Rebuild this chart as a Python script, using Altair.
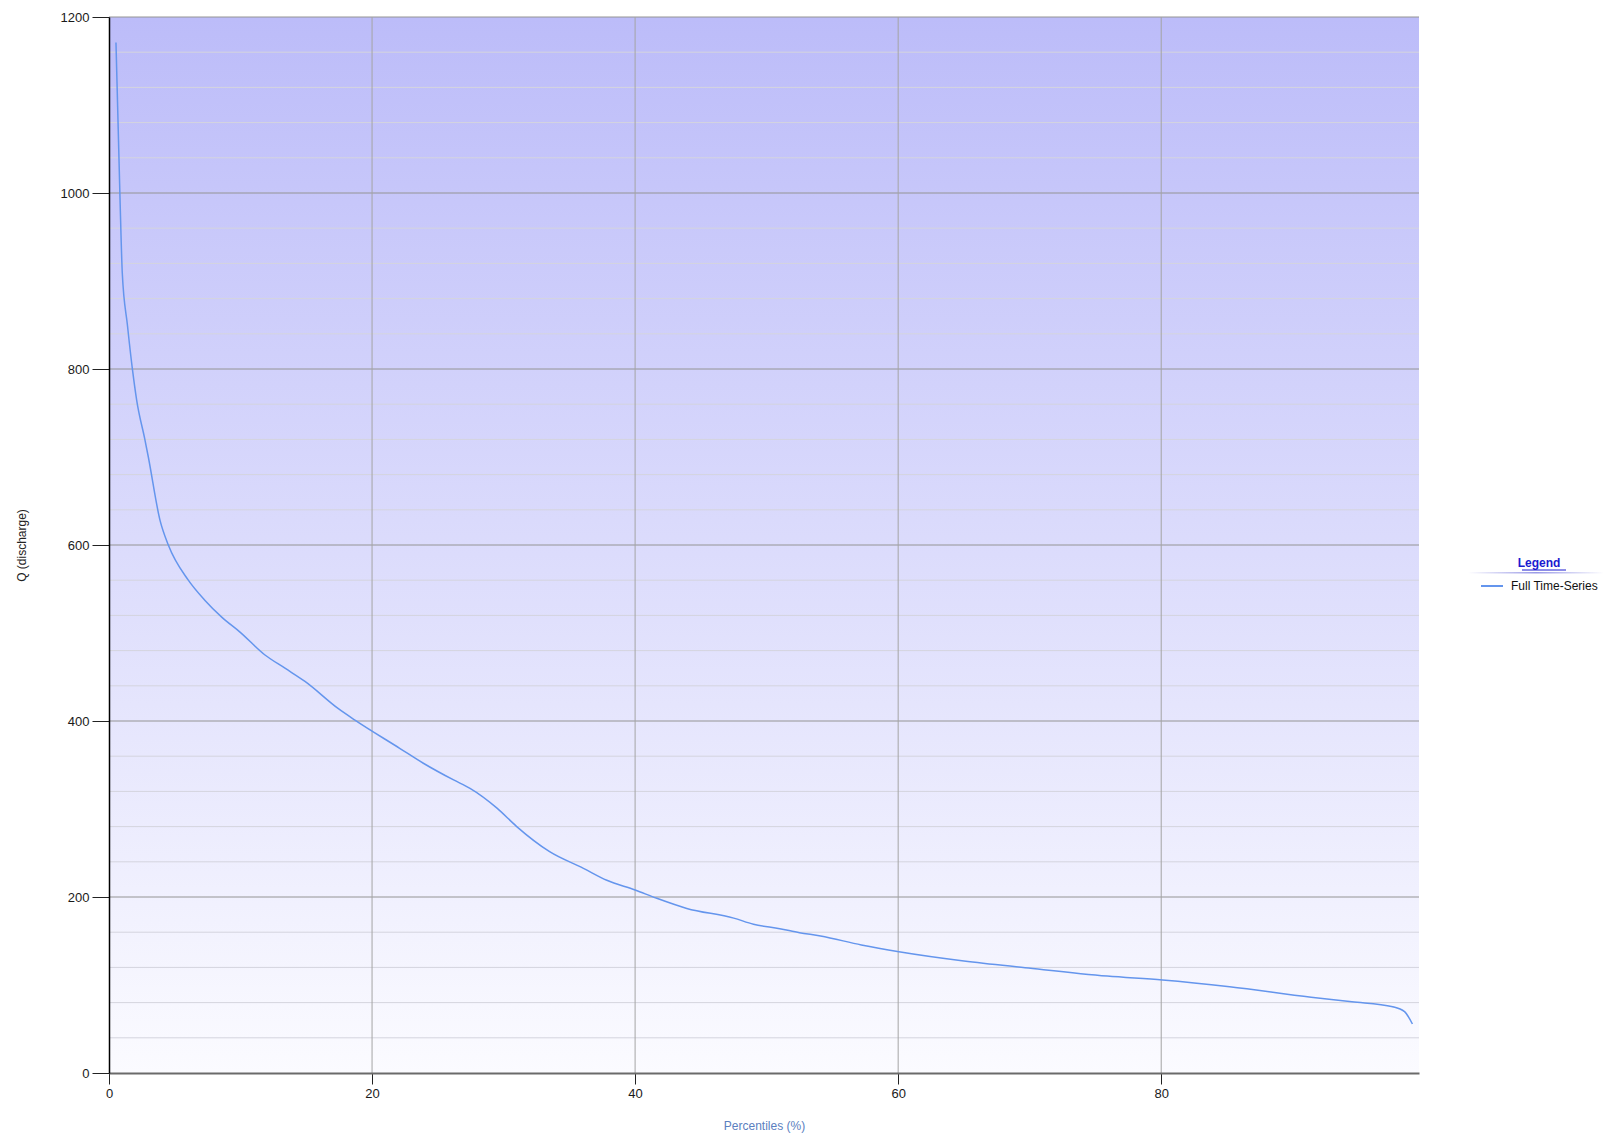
import altair as alt
import pandas as pd

# ---- data ----
percentiles = [0.53, 0.84, 1.01, 1.4, 1.77, 2.1, 2.74, 2.99, 3.88, 4.51, 6.03, 7.3,
               8.57, 9.96, 11.86, 13.38, 14.9, 17.44, 18.7, 22.1, 23.9, 26.2, 27.45,
               29.5, 31.0, 33.5, 36.07, 37.85, 40.0, 41.65, 43.93, 47.5, 49.0, 51.0,
               52.5, 54.1, 57.2, 60.06, 65.0, 69.65, 75.9, 80.1, 85.2, 91.4, 94.5,
               97.6, 98.5, 99.1]
discharge = [1171, 992, 909, 850, 801, 765, 719, 700, 628, 600, 560, 537,
             518, 501, 475, 460, 445, 414, 401, 369, 352, 333, 323.5,
             301, 280, 251.5, 232.6, 219, 208, 198.5, 187, 176, 169, 164,
             159.5, 155.7, 145.5, 137.8, 127.3, 119.7, 110.2, 105.7, 98, 86, 81,
             75.3, 69.7, 55.7]
series_name = "Full Time-Series"
x_ticks = [0, 20, 40, 60, 80]
y_ticks = [0, 200, 400, 600, 800, 1000, 1200]
x_grid = [20, 40, 60, 80]
y_grid = [200, 400, 600, 800, 1000, 1200]
minor_y = [40, 80, 120, 160, 240, 280, 320, 360, 440, 480, 520, 560,
           640, 680, 720, 760, 840, 880, 920, 960, 1040, 1080, 1120, 1160]

df = pd.DataFrame({"p": percentiles, "q": discharge, "series": [series_name] * len(percentiles)})
minor_df = pd.DataFrame({"q": minor_y})
ygrid_df = pd.DataFrame({"q": y_grid})
xgrid_df = pd.DataFrame({"p": x_grid})

FONT = "Liberation Sans"
W, H = 1310, 1056

xscale = alt.Scale(domain=[0, 99.6], nice=False, zero=False)
yscale = alt.Scale(domain=[0, 1200], nice=False)

x_axis = alt.Axis(values=x_ticks, title="Percentiles (%)", grid=False, format="d",
                  tickSize=11, tickColor="#222222", zindex=1,
                  labelFontSize=13, labelColor="#1a1a1a", labelPadding=3, labelFont=FONT,
                  labelFlush=False, domainColor="#6a6a6a", domainWidth=2,
                  titleColor="#5b80c0", titleFontSize=12, titleFontWeight="normal",
                  titleFont=FONT, titleY=52, titleBaseline="middle")
y_axis = alt.Axis(values=y_ticks, title="Q (discharge)", grid=False, format="d",
                  tickSize=17, tickColor="#222222", zindex=1,
                  labelFontSize=13, labelColor="#1a1a1a", labelPadding=3, labelFont=FONT,
                  labelFlush=False, domainColor="#000000", domainWidth=1.5,
                  titleColor="#222222", titleFontSize=12, titleFontWeight="normal",
                  titleFont=FONT, titleX=-88, titleBaseline="middle")

dummy = pd.DataFrame({"a": [0]})

background = alt.Chart(dummy).mark_rect(
    color=alt.LinearGradient(gradient="linear",
                             stops=[alt.GradientStop(color="#bcbcf9", offset=0),
                                    alt.GradientStop(color="#fbfbff", offset=1)],
                             x1=0, x2=0, y1=0, y2=1)
).encode(x=alt.value(0), x2=alt.value(W), y=alt.value(0), y2=alt.value(H))

minor = alt.Chart(minor_df).mark_rule(color="#d4d4de", strokeWidth=1).encode(
    y=alt.Y("q:Q", scale=yscale, axis=y_axis)
)
ygrid = alt.Chart(ygrid_df).mark_rule(color="#949494", strokeWidth=1).encode(
    y=alt.Y("q:Q", scale=yscale, axis=y_axis)
)
xgrid = alt.Chart(xgrid_df).mark_rule(color="#a4a4a4", strokeWidth=1).encode(
    x=alt.X("p:Q", scale=xscale, axis=x_axis)
)

line = alt.Chart(df).mark_line(strokeWidth=1.5, interpolate="monotone").encode(
    x=alt.X("p:Q", scale=xscale, axis=x_axis),
    y=alt.Y("q:Q", scale=yscale, axis=y_axis),
    color=alt.Color("series:N", scale=alt.Scale(range=["#6495ED"]),
                    legend=alt.Legend(title="Legend", orient="none", legendX=1371, legendY=541,
                                      titleColor="#1a1ad0", titleFontWeight="bold",
                                      titleFontSize=12, titleFont=FONT, titleAnchor="middle",
                                      titlePadding=4, padding=0,
                                      labelFont=FONT, labelFontSize=12, labelColor="#111111",
                                      labelOffset=7, symbolType="stroke", symbolSize=484,
                                      symbolStrokeWidth=2)),
)

underline = alt.Chart(dummy).mark_rule(color="#1a1ad0", strokeWidth=1).encode(
    x=alt.value(1413), x2=alt.value(1457), y=alt.value(553)
)
sep = alt.Chart(dummy).mark_rect(
    color=alt.LinearGradient(gradient="linear",
                             stops=[alt.GradientStop(color="#ffffff", offset=0),
                                    alt.GradientStop(color="#9a9ae6", offset=0.5),
                                    alt.GradientStop(color="#ffffff", offset=1)],
                             x1=0, x2=1, y1=0, y2=0)
).encode(x=alt.value(1359), x2=alt.value(1495), y=alt.value(555), y2=alt.value(556.5))

chart = alt.layer(background, minor, ygrid, xgrid, line, underline, sep).properties(
    width=W, height=H,
    autosize=alt.AutoSizeParams(type="none"),
    padding={"left": 101, "top": 9, "right": 185, "bottom": 60},
).configure_view(
    strokeWidth=0,
)

chart.save("out.html", embed_options={"renderer": "svg", "actions": False})
